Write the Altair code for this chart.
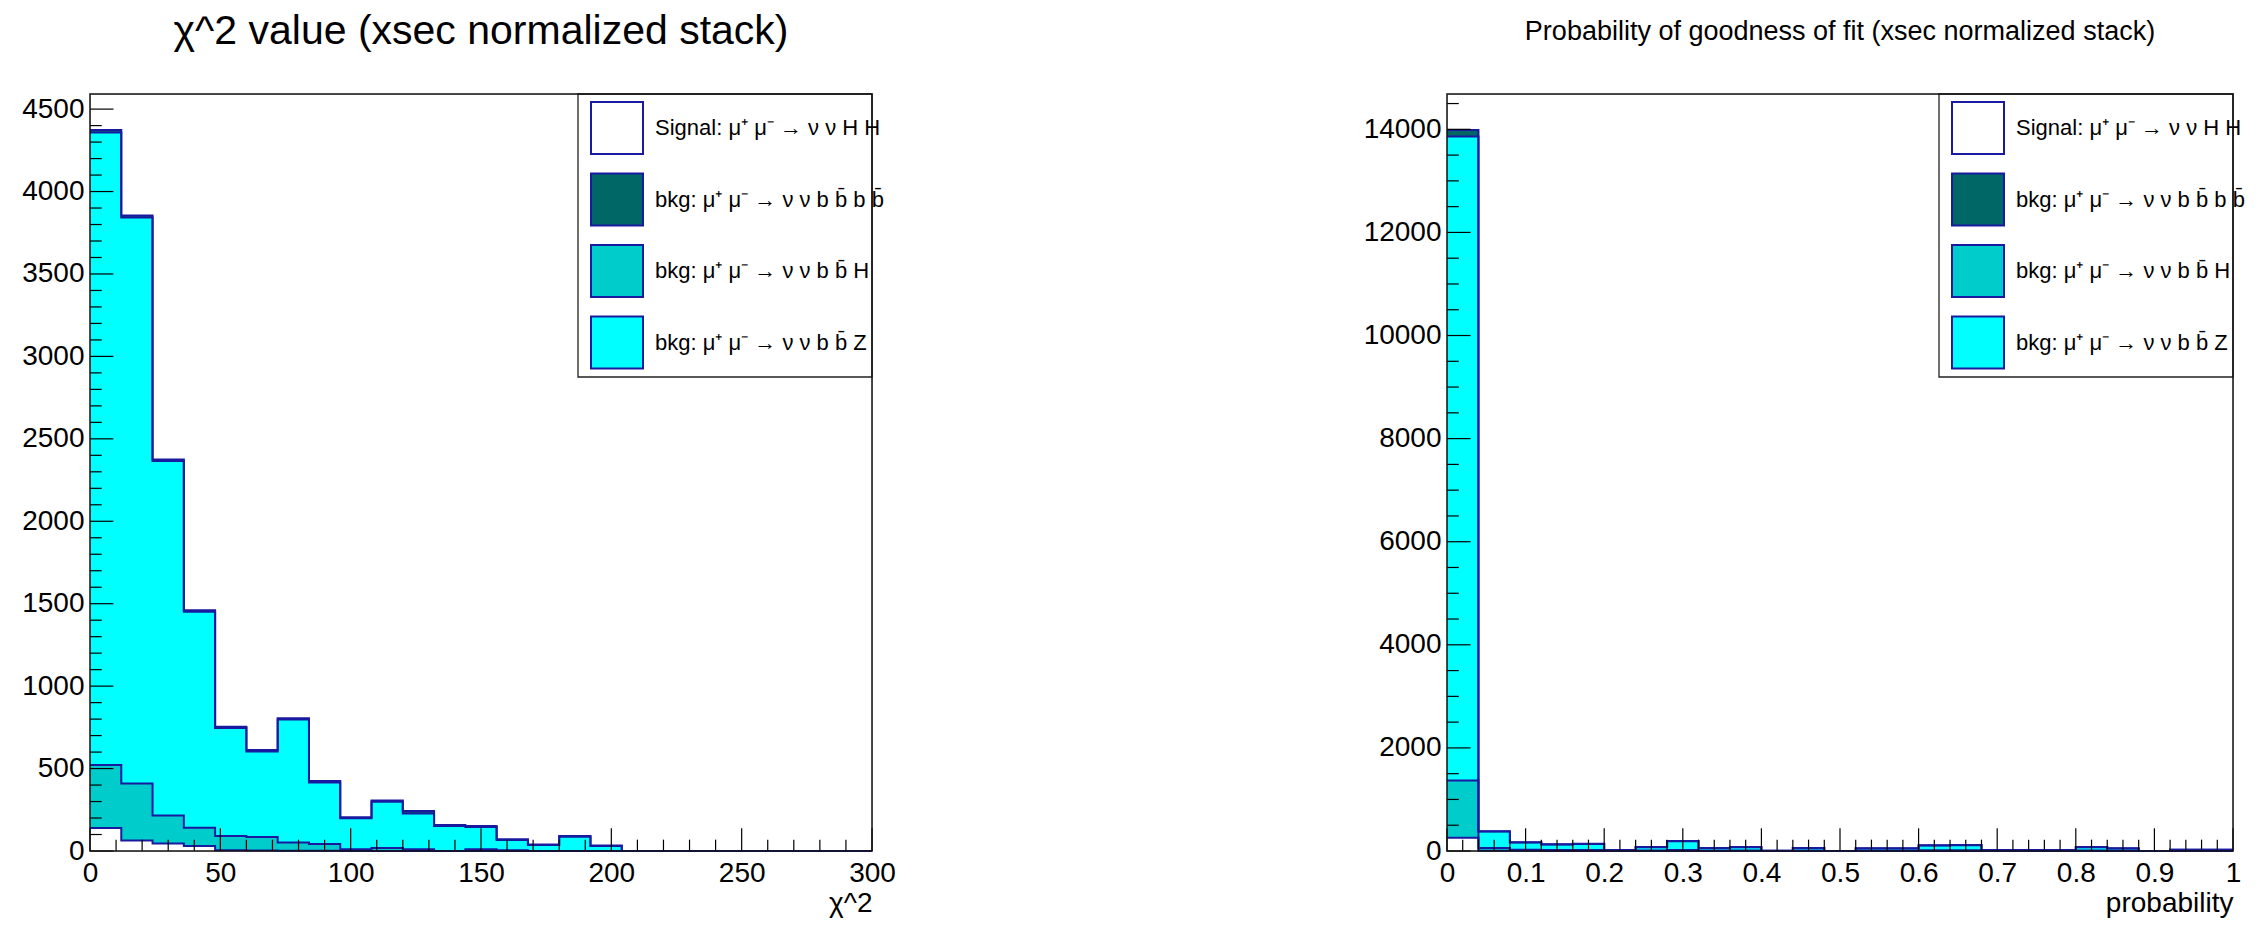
import altair as alt
import pandas as pd

FONT = "Liberation Sans"
LINE = "#1a1aa0"

# ---------------- data ----------------
legend_labels = [
    "Signal: μ⁺ μ⁻ → ν ν H H",
    "bkg: μ⁺ μ⁻ → ν ν b b̄ b b̄",
    "bkg: μ⁺ μ⁻ → ν ν b b̄ H",
    "bkg: μ⁺ μ⁻ → ν ν b b̄ Z",
]
legend_colors = ["#ffffff", "#006666", "#00cccc", "#00ffff"]

# chi^2 histogram (25 bins of width 12)
chi2_edges = [0, 12, 24, 36, 48, 60, 72, 84, 96, 108, 120, 132, 144, 156, 168,
              180, 192, 204, 216, 228, 240, 252, 264, 276, 288, 300]
chi2_signal = [139, 63, 46, 30, 4, 3, 2, 2, 0, 0, 0, 0, 0, 0, 0, 0, 0,
               0, 0, 0, 0, 0, 0, 0, 0]
chi2_bbbb = [15, 12, 10, 10, 8, 8, 8, 8, 6, 8, 14, 6, 6, 5, 4, 5, 4,
             0, 0, 0, 0, 0, 0, 0, 0]
chi2_bbH = [382, 347, 170, 111, 87, 82, 49, 40, 10, 18, 10, 0, 10, 5, 0, 0, 0,
            0, 0, 0, 0, 0, 0, 0, 0]
chi2_bbZ = [3837, 3432, 2149, 1310, 655, 519, 746, 374, 188, 281, 218, 152, 136,
            61, 36, 86, 30, 0, 0, 0, 0, 0, 0, 0, 0]

# probability histogram (25 bins of width 0.04)
prob_edges = [0, 0.04, 0.08, 0.12, 0.16, 0.2, 0.24, 0.28, 0.32, 0.36, 0.4, 0.44,
              0.48, 0.52, 0.56, 0.6, 0.64, 0.68, 0.72, 0.76, 0.8, 0.84, 0.88,
              0.92, 0.96, 1.0]
prob_signal = [258, 6, 3, 2, 2, 1, 1, 2, 1, 1, 0, 1, 0, 1, 1, 1, 1,
               0, 0, 0, 0, 0, 0, 0, 0]
prob_bbbb = [125, 5, 3, 2, 2, 1, 2, 3, 2, 2, 1, 2, 0, 2, 2, 3, 3,
             1, 1, 1, 2, 2, 0, 1, 1]
prob_bbH = [1110, 50, 20, 15, 15, 5, 8, 15, 8, 8, 0, 8, 0, 6, 6, 12, 12,
            3, 3, 3, 8, 6, 0, 3, 3]
prob_bbZ = [12493, 324, 142, 111, 121, 13, 66, 174, 47, 66, 4, 47, 0, 43, 43,
            94, 100, 16, 16, 16, 67, 44, 0, 21, 21]

# axis tick values
chi2_x_major = [0, 50, 100, 150, 200, 250, 300]
chi2_x_minor = [v for v in range(0, 301, 10) if v % 50 != 0]
chi2_y_major = [0, 500, 1000, 1500, 2000, 2500, 3000, 3500, 4000, 4500]
chi2_y_minor = [v for v in range(0, 4600, 100) if v % 500 != 0]

prob_x_major = [0, 0.1, 0.2, 0.3, 0.4, 0.5, 0.6, 0.7, 0.8, 0.9, 1]
prob_x_minor = [round(k * 0.02, 2) for k in range(0, 51) if k % 5 != 0]
prob_y_major = [0, 2000, 4000, 6000, 8000, 10000, 12000, 14000]
prob_y_minor = [v for v in range(0, 14600, 500) if v % 2000 != 0]


def stack_frame(edges, series):
    """series listed bottom -> top of the stack"""
    rows = []
    n = len(edges) - 1
    cum = [0] * n
    for label, vals in series:
        new = [c + v for c, v in zip(cum, vals)]
        for i, e in enumerate(edges):
            j = min(i, n - 1)
            rows.append({"comp": label, "x": e, "lo": cum[j], "hi": new[j]})
        cum = new
    return pd.DataFrame(rows), max(cum)


def panel(edges, series, title, tsize, toffset, xtitle, xmaj, xmin, ymaj, ymin,
          W, H, xfmt, legend_x):
    df, top = stack_frame(edges, series)
    ymax = 1.05 * top
    xs = alt.Scale(domain=[edges[0], edges[-1]], nice=False, zero=False)
    ys = alt.Scale(domain=[0, ymax], nice=False)
    xaxis = alt.Axis(values=xmaj, format=xfmt, ticks=False, domain=False, grid=False,
                     labelFlush=False, labelFont=FONT, labelFontSize=28,
                     labelColor="black", labelPadding=8, title=xtitle,
                     titleFont=FONT, titleFontSize=28, titleFontWeight="normal",
                     titleColor="black", titleAnchor="end", titlePadding=2)
    yaxis = alt.Axis(values=ymaj, format="d", ticks=False, domain=False, grid=False,
                     labelFont=FONT, labelFontSize=28, labelColor="black",
                     labelPadding=6, title=None)

    area = alt.Chart(df).mark_area(interpolate="step-after", opacity=1).encode(
        x=alt.X("x:Q", scale=xs, axis=xaxis),
        y=alt.Y("lo:Q", scale=ys, axis=yaxis),
        y2="hi:Q",
        color=alt.Color(
            "comp:N",
            scale=alt.Scale(domain=legend_labels, range=legend_colors),
            legend=alt.Legend(orient="none", legendX=legend_x, legendY=7, title=None,
                              symbolType="square", symbolSize=2704,
                              symbolStrokeColor=LINE, symbolStrokeWidth=2,
                              symbolOpacity=1, labelFont=FONT, labelFontSize=22,
                              labelColor="black", labelOffset=11, labelLimit=800,
                              rowPadding=11.5, padding=0, direction="vertical"),
        ),
    )
    line = alt.Chart(df).mark_line(interpolate="step-after", color=LINE,
                                   strokeWidth=2).encode(
        x=alt.X("x:Q", scale=xs, axis=xaxis),
        y=alt.Y("hi:Q", scale=ys, axis=yaxis),
        detail="comp:N",
    )
    yl = 0.03 * W
    xl = 0.03 * H
    ytm = alt.Chart(pd.DataFrame({"v": ymaj})).mark_rule(color="black", strokeWidth=1.2).encode(
        y=alt.Y("v:Q", scale=ys, axis=yaxis), x=alt.value(0), x2=alt.value(yl))
    ytn = alt.Chart(pd.DataFrame({"v": ymin})).mark_rule(color="black", strokeWidth=1.2).encode(
        y=alt.Y("v:Q", scale=ys, axis=yaxis), x=alt.value(0), x2=alt.value(yl / 2))
    xtm = alt.Chart(pd.DataFrame({"v": xmaj})).mark_rule(color="black", strokeWidth=1.2).encode(
        x=alt.X("v:Q", scale=xs, axis=xaxis), y=alt.value(H), y2=alt.value(H - xl))
    xtn = alt.Chart(pd.DataFrame({"v": xmin})).mark_rule(color="black", strokeWidth=1.2).encode(
        x=alt.X("v:Q", scale=xs, axis=xaxis), y=alt.value(H), y2=alt.value(H - xl / 2))
    one = pd.DataFrame({"k": [0]})
    legbox = alt.Chart(one).mark_rect(fill="white", stroke="#222222", strokeWidth=1.3).encode(
        x=alt.value(W - 294), x2=alt.value(W), y=alt.value(0), y2=alt.value(283))
    frame = alt.Chart(one).mark_rect(filled=False, stroke="#111111", strokeWidth=1.5).encode(
        x=alt.value(0), x2=alt.value(W), y=alt.value(0), y2=alt.value(H))
    return alt.layer(area, line, ytm, ytn, xtm, xtn, legbox, frame).properties(
        width=W, height=H,
        title=alt.TitleParams(text=title, fontSize=tsize, font=FONT, fontWeight="normal",
                              color="black", anchor="middle", offset=toffset),
    )


left = panel(chi2_edges,
             [(legend_labels[0], chi2_signal), (legend_labels[2], chi2_bbH),
              (legend_labels[3], chi2_bbZ), (legend_labels[1], chi2_bbbb)],
             "χ^2 value (xsec normalized stack)", 41, 40, "χ^2",
             chi2_x_major, chi2_x_minor, chi2_y_major, chi2_y_minor,
             782, 757, "d", 500)
right = panel(prob_edges,
              [(legend_labels[0], prob_signal), (legend_labels[2], prob_bbH),
               (legend_labels[3], prob_bbZ), (legend_labels[1], prob_bbbb)],
              "Probability of goodness of fit (xsec normalized stack)", 27, 47,
              "probability", prob_x_major, prob_x_minor, prob_y_major, prob_y_minor,
              786, 757, "~g", 504)

chart = alt.hconcat(left, right, spacing=575, bounds="flush").resolve_scale(
    color="independent").properties(
    padding={"left": 13, "top": 2, "right": 0, "bottom": 0}
).configure_view(stroke="transparent").configure(font=FONT, background="white")

chart.save("out.html", embed_options={"renderer": "svg", "actions": False})
